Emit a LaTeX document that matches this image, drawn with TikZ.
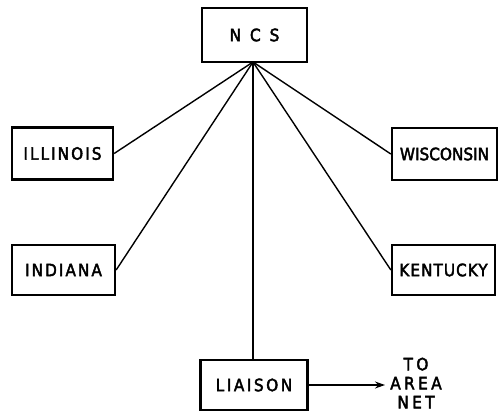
\documentclass[tikz,border=0pt]{standalone}
\usepackage{fontspec}
\setmainfont{DejaVu Sans}
\newfontfamily\boxfont[FakeStretch=0.9, FakeBold=2.5]{DejaVu Sans}
\usetikzlibrary{arrows.meta}
\newcommand{\lspace}[1]{\boxfont\addfontfeatures{LetterSpace=#1}\fontsize{17}{19}\selectfont}
\begin{document}
\begin{tikzpicture}[x=1pt,y=-1pt,
  unit/.style={draw, line width=2.3pt, minimum width=103pt, minimum height=52pt,
    inner sep=0pt},
  link/.style={line width=1.4pt},
  flow/.style={line width=1.4pt, -{Stealth[length=10pt,width=7pt]}}]
\useasboundingbox (0,0) rectangle (500,412);
\node[unit, minimum width=105pt, minimum height=54pt, font=\lspace{24}] (ncs) at (254.5,35) {N C S};
\node[unit, minimum width=101pt, font=\lspace{12}] (ill) at (62.5,153.5) {ILLINOIS};
\node[unit, minimum height=50pt, font=\lspace{12}] (ind) at (63.5,270) {INDIANA};
\node[unit, minimum width=105pt, font=\lspace{0}] (wis) at (444.5,154) {WISCONSIN};
\node[unit, minimum height=50pt, font=\lspace{6}] (ken) at (443.5,270) {KENTUCKY};
\node[unit, minimum width=107pt, minimum height=50pt, font=\lspace{15}] (lia) at (254,385) {LIAISON};
\coordinate (hub) at (253,62);
\coordinate (tip) at (385,385);
\node[align=center, font=\lspace{20}, inner sep=0pt] (area) at (416,383) {TO\\AREA\\NET};
\draw[link] (hub) -- (ill.east);
\draw[link] (hub) -- (ind.east);
\draw[link] (hub) -- (wis.west);
\draw[link] (hub) -- (ken.west);
\draw[link] (hub) -- (lia.north -| hub);
\draw[flow] (lia.east) -- (tip);
\end{tikzpicture}
\end{document}
